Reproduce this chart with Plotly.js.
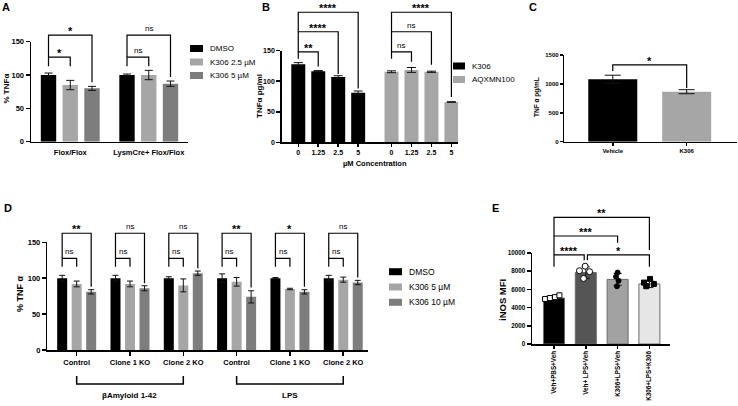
<!DOCTYPE html>
<html><head><meta charset="utf-8">
<script src="https://cdn.plot.ly/plotly-3.0.1.min.js"></script>
<style>html,body{margin:0;padding:0;background:#fff}#chart{width:738px;height:406px}</style>
</head><body><div id="chart"></div>
<script>
// ---------------- DATA ----------------
// Panel A
const aGroups = ['Flox/Flox', 'LysmCre+ Flox/Flox'];
const aSeries = ['DMSO', 'K306 2.5 µM', 'K306 5 µM'];
const aDMSO = [100, 100];
const aDMSOErr = [3, 1.5];
const aK25 = [85, 100];
const aK25Err = [7, 7];
const aK5 = [80, 87];
const aK5Err = [3, 4];
const aYTicks = [0, 50, 100, 150];
const aSig = [['*', '*'], ['ns', 'ns']];          // [group][vs K306 2.5, vs K306 5]

// Panel B
const bConc = ['0', '1.25', '2.5', '5'];
const bSeries = ['K306', 'AQXMN100'];
const bK306 = [128, 116.5, 107, 81];
const bK306Err = [2.5, 1, 2, 3];
const bAQX = [115.5, 118.5, 115.5, 66];
const bAQXErr = [1.5, 4, 1, 0.5];
const bYTicks = [0, 50, 100, 150];
const bSig = [['**', '****', '****'], ['ns', 'ns', '****']];

// Panel C
const cCats = ['Vehicle', 'K306'];
const cVals = [1080, 865];
const cErr = [70, 35];
const cYTicks = [0, 500, 1000, 1500];
const cSig = '*';

// Panel D
const dGroups = ['Control', 'Clone 1 KO', 'Clone 2 KO', 'Control', 'Clone 1 KO', 'Clone 2 KO'];
const dTreatments = ['βAmyloid 1-42', 'LPS'];
const dSeries = ['DMSO', 'K306 5 µM', 'K306 10 µM'];
const dDMSO = [100, 100, 100, 100, 100, 100];
const dDMSOErr = [4, 4, 2, 6, 1, 4];
const dK5 = [92, 92, 90, 95, 85, 98];
const dK5Err = [4, 4, 9, 6, 1, 3.5];
const dK10 = [81, 86, 107, 74, 81, 94];
const dK10Err = [3, 3.5, 3, 8.5, 3, 3];
const dYTicks = [0, 50, 100, 150];
const dSig = [['ns', '**'], ['ns', 'ns'], ['ns', 'ns'], ['ns', '**'], ['ns', '*'], ['ns', 'ns']];

// Panel E
const eCats = ['Veh+PBS+Veh', 'Veh+ LPS+Veh', 'K306+LPS+Veh', 'K306+LPS+K306'];
const eMeans = [5050, 7850, 7100, 6600];
const eSD = [200, 620, 650, 400];
const ePoints = [
  [4950, 5050, 5150, 5350],
  [8550, 8050, 7950, 7200],
  [7850, 7400, 6950, 6350],
  [7150, 6750, 6600, 6350]
];
const eYTicks = [0, 2000, 4000, 6000, 8000, 10000];
const eSig = [[0, 1, '****'], [1, 3, '*'], [0, 2, '***'], [0, 3, '**']];

// ---------------- STYLE / LAYOUT ----------------
const W = 738, H = 406;
const FONT = 'Liberation Sans, Arial, Helvetica, sans-serif';
const BLACK = '#000000', LIGHT = '#a6a6a6', MID = '#7d7d7d';

const P = {
  A: {l: 31, r: 188, t: 41.7, b: 141.7, xr: [-0.5, 1.5], yr: [0, 150], x: 'x', y: 'y'},
  B: {l: 281.7, r: 458, t: 50.7, b: 142.3, xr: [-0.83, 8.0], yr: [0, 150], x: 'x2', y: 'y2'},
  C: {l: 564.3, r: 736.7, t: 55, b: 141.7, xr: [-0.656, 1.677], yr: [0, 1500], x: 'x3', y: 'y3'},
  D: {l: 47.3, r: 368.3, t: 242.3, b: 350, xr: [-0.551, 5.47], yr: [0, 150], x: 'x4', y: 'y4'},
  E: {l: 532, r: 670, t: 253, b: 344, xr: [-0.692, 3.648], yr: [0, 10000], x: 'x5', y: 'y5'}
};
const fx = (p, v) => (p.l + (v - p.xr[0]) / (p.xr[1] - p.xr[0]) * (p.r - p.l)) / W;
const fy = (p, v) => 1 - (p.b - (v - p.yr[0]) / (p.yr[1] - p.yr[0]) * (p.b - p.t)) / H;
const qx = v => v / W, qy = v => 1 - v / H;

const traces = [], shapes = [], annotations = [];

function errs(arr, w) {
  return {type: 'data', array: arr, visible: true, color: '#111', thickness: 1, width: w};
}
function barTrace(p, xs, ys, err, color, width, capw, extra) {
  return Object.assign({
    type: 'bar', x: xs, y: ys, width: width, xaxis: p.x, yaxis: p.y,
    marker: {color: color, line: {width: 0}},
    error_y: errs(err, capw), showlegend: false, hoverinfo: 'skip'
  }, extra || {});
}
function bracket(p, x1, x2, top, lb, rb, label, lw) {
  const X1 = fx(p, x1), X2 = fx(p, x2);
  shapes.push({type: 'path', xref: 'paper', yref: 'paper',
    path: `M${X1},${fy(p, lb)} L${X1},${fy(p, top)} L${X2},${fy(p, top)} L${X2},${fy(p, rb)}`,
    line: {color: '#000', width: lw || 1.2}});
  const star = label !== 'ns';
  annotations.push({xref: 'paper', yref: 'paper', x: (X1 + X2) / 2, y: fy(p, top),
    xanchor: 'center', yanchor: 'bottom', showarrow: false, text: label,
    yshift: star ? -4 : 0,
    font: {family: FONT, size: star ? 11 : 8, color: '#000', weight: star ? 'bold' : 'normal'}});
}
function text(x, y, t, size, opts) {
  annotations.push(Object.assign({xref: 'paper', yref: 'paper', x: qx(x), y: qy(y), text: t,
    showarrow: false, xanchor: 'center', yanchor: 'middle',
    font: {family: FONT, size: size, color: '#000', weight: 'bold'}}, opts || {}));
}
function legendBox(x0, x1, yc, h, color, label, size) {
  shapes.push({type: 'rect', xref: 'paper', yref: 'paper', x0: qx(x0), x1: qx(x1),
    y0: qy(yc - h / 2), y1: qy(yc + h / 2), fillcolor: color, line: {width: 0}});
  text(x1 + 5, yc, label, size, {xanchor: 'left', font: {family: FONT, size: size, color: '#000'}});
}
function axes(p, xopt, yopt) {
  const tf = s => ({family: FONT, size: s, color: '#000', weight: 'bold'});
  const base = {showline: true, linecolor: '#000', linewidth: 1.5, showgrid: false, zeroline: false,
    ticks: 'outside', ticklen: 4, tickwidth: 1.5, tickcolor: '#000', fixedrange: true};
  const xa = Object.assign({}, base, {domain: [p.l / W, p.r / W], range: p.xr, anchor: p.y,
    tickmode: 'array', tickfont: tf(xopt.fs)}, xopt);
  const ya = Object.assign({}, base, {domain: [1 - p.b / H, 1 - p.t / H], range: p.yr, anchor: p.x,
    tickmode: 'array', tickfont: tf(yopt.fs)}, yopt);
  delete xa.fs; delete ya.fs;
  return [xa, ya];
}
const yt = vals => ({tickvals: vals, ticktext: vals.map(v => String(v))});

// ---------- Panel A ----------
const aOff = [-0.277, 0, 0.277], aW = 0.196;
const aIdx = aGroups.map((g, i) => i);
[[aDMSO, aDMSOErr, BLACK], [aK25, aK25Err, LIGHT], [aK5, aK5Err, MID]].forEach((s, k) => {
  traces.push(barTrace(P.A, aIdx.map(i => i + aOff[k]), s[0], s[1], s[2], aW, 4, {name: aSeries[k]}));
});
const aVals = [aDMSO, aK25, aK5], aErrs = [aDMSOErr, aK25Err, aK5Err];
aIdx.forEach(g => {
  bracket(P.A, g + aOff[0], g + aOff[1], 127, 113, 113, aSig[g][0]);
  bracket(P.A, g + aOff[0], g + aOff[2], 160, 127, aVals[2][g] + aErrs[2][g] + 6, aSig[g][1]);
});
aSeries.forEach((s, k) => legendBox(190, 203, 48.5 + k * 13.5, 7, [BLACK, LIGHT, MID][k], s, 8));
text(5.5, 89, '% TNFα', 8, {textangle: -90});
text(6, 7, 'A', 11);

// ---------- Panel B ----------
const bGroupStep = 4.67, bW = 0.7;
const bIdx = bConc.map((c, i) => i);
const bX = [bIdx.map(i => i), bIdx.map(i => i + bGroupStep)];
traces.push(barTrace(P.B, bX[0], bK306, bK306Err, BLACK, bW, 4.5, {name: bSeries[0]}));
traces.push(barTrace(P.B, bX[1], bAQX, bAQXErr, LIGHT, bW, 4.5, {name: bSeries[1]}));
const bRB = [[124, 112, 88], [132, 127, 74]];
[0, 1].forEach(g => {
  bracket(P.B, bX[g][0], bX[g][1], 148, 137, bRB[g][0], bSig[g][0]);
  bracket(P.B, bX[g][0], bX[g][2], 181, 148, bRB[g][1], bSig[g][1]);
  bracket(P.B, bX[g][0], bX[g][3], 213, 181, bRB[g][2], bSig[g][2]);
});
bSeries.forEach((s, k) => legendBox(453, 465, 66 + k * 13.5, 7, [BLACK, LIGHT][k], s, 8));
text(260, 96, 'TNFα pg/ml', 8, {textangle: -90});
text(375, 164, 'µM Concentration', 7.5);
text(266, 7, 'B', 11);

// ---------- Panel C ----------
const cIdx = cCats.map((c, i) => i);
traces.push(barTrace(P.C, cIdx, cVals, cErr, [BLACK, LIGHT], 0.663, 8, {}));
bracket(P.C, 0, 1, 1330, 1225, 930, cSig);
text(537, 97, 'TNF α pg/mL', 6.5, {textangle: -90});
text(533, 7, 'C', 11);

// ---------- Panel D ----------
const dOff = [-0.272, 0, 0.272], dW = 0.1876;
const dIdx = dGroups.map((g, i) => i);
[[dDMSO, dDMSOErr, BLACK], [dK5, dK5Err, LIGHT], [dK10, dK10Err, MID]].forEach((s, k) => {
  traces.push(barTrace(P.D, dIdx.map(i => i + dOff[k]), s[0], s[1], s[2], dW, 3, {name: dSeries[k]}));
});
const dRB = [88, 93, 114, 87, 88, 101];
dIdx.forEach(g => {
  bracket(P.D, g + dOff[0], g + dOff[1], 127.7, 116, 116, dSig[g][0]);
  bracket(P.D, g + dOff[0], g + dOff[2], 162.6, 127.7, dRB[g], dSig[g][1]);
});
dTreatments.forEach((t, k) => {
  const g0 = k * 3, g1 = k * 3 + 2;
  const X0 = fx(P.D, g0), X1 = fx(P.D, g1);
  shapes.push({type: 'path', xref: 'paper', yref: 'paper',
    path: `M${X0},${qy(376)} L${X0},${qy(384)} L${X1},${qy(384)} L${X1},${qy(376)}`,
    line: {color: '#000', width: 1.5}});
  annotations.push({xref: 'paper', yref: 'paper', x: (X0 + X1) / 2, y: qy(395), text: t, showarrow: false,
    xanchor: 'center', yanchor: 'middle', font: {family: FONT, size: 8, color: '#000', weight: 'bold'}});
});
dSeries.forEach((s, k) => legendBox(389, 402, 271.7 + k * 15.3, 7, [BLACK, LIGHT, MID][k], s, 8.5));
text(20, 294, '% TNF α', 9, {textangle: -90});
text(8, 208, 'D', 11);

// ---------- Panel E ----------
const eIdx = eCats.map((c, i) => i);
const eColors = ['#000000', '#555555', '#a2a2a2', '#e6e6e6'];
traces.push(barTrace(P.E, eIdx, eMeans, eSD, eColors, 0.66, 4,
  {marker: {color: eColors, line: {color: '#6a6a6a', width: 1}}}));
const eJit = [[-0.28, -0.13, 0.03, 0.17], [-0.02, -0.2, 0.12, -0.07], [0, -0.05, 0.03, -0.02], [0.02, -0.17, 0.14, -0.1]];
const eSym = ['square', 'circle', 'circle', 'square'];
const eFill = ['#ffffff', '#ffffff', '#000000', '#000000'];
ePoints.forEach((pts, i) => {
  traces.push({type: 'scatter', mode: 'markers', xaxis: P.E.x, yaxis: P.E.y,
    x: pts.map((v, j) => i + eJit[i][j]), y: pts, showlegend: false, hoverinfo: 'skip', cliponaxis: false,
    marker: {symbol: eSym[i], size: i === 1 ? 6 : 5, color: eFill[i], line: {color: '#000', width: 1}}});
});
const eBr = [[9800, 8500, 9200], [9800, 9200, 8500], [11870, 9800, 11130], [13920, 11870, 10330]];
eSig.forEach((s, k) => {
  let xa = s[0], xb = s[1];
  if (k === 0) xb = s[1] - 0.05;
  if (k === 1) xa = s[0] + 0.05;
  bracket(P.E, xa, xb, eBr[k][0], eBr[k][1], eBr[k][2], s[2]);
});
text(502, 300, 'iNOS MFI', 9.5, {textangle: -90});
text(495, 208, 'E', 11);

// ---------- axes ----------
const layout = {
  width: W, height: H, margin: {l: 0, r: 0, t: 0, b: 0}, paper_bgcolor: '#fff', plot_bgcolor: 'rgba(0,0,0,0)',
  barmode: 'overlay', showlegend: false, shapes: shapes, annotations: annotations, font: {family: FONT}
};
let ax;
ax = axes(P.A, {fs: 7.5, tickvals: aIdx, ticktext: aGroups, ticks: '', ticklabelstandoff: 3},
               Object.assign({fs: 7.5}, yt(aYTicks)));
layout.xaxis = ax[0]; layout.yaxis = ax[1];
ax = axes(P.B, {fs: 7, tickvals: bX[0].concat(bX[1]), ticktext: bConc.concat(bConc), ticklen: 3},
               Object.assign({fs: 7}, yt(bYTicks)));
layout.xaxis2 = ax[0]; layout.yaxis2 = ax[1];
ax = axes(P.C, {fs: 6, tickvals: cIdx, ticktext: cCats, ticklen: 3},
               Object.assign({fs: 6, ticklen: 3}, yt(cYTicks)));
layout.xaxis3 = ax[0]; layout.yaxis3 = ax[1];
ax = axes(P.D, {fs: 7.5, tickvals: dIdx, ticktext: dGroups},
               Object.assign({fs: 7.5}, yt(dYTicks)));
layout.xaxis4 = ax[0]; layout.yaxis4 = ax[1];
ax = axes(P.E, {fs: 6.3, tickvals: eIdx, ticktext: eCats, tickangle: -90, ticklen: 3},
               Object.assign({fs: 6.3}, yt(eYTicks)));
layout.xaxis5 = ax[0]; layout.yaxis5 = ax[1];

Plotly.newPlot('chart', traces, layout, {staticPlot: true, displayModeBar: false});
</script></body></html>
